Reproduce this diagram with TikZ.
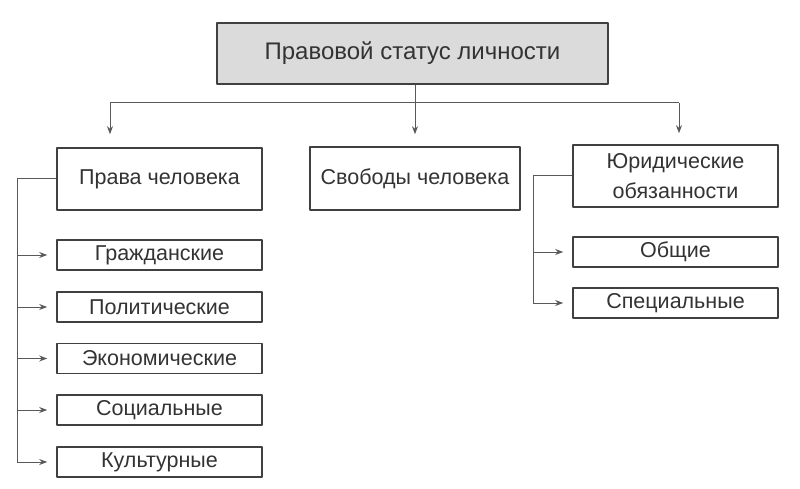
\documentclass[tikz,border=0pt]{standalone}
\usepackage{fontspec}
\setmainfont{Liberation Sans}
\usetikzlibrary{arrows.meta}
\begin{document}
\begin{tikzpicture}[x=1pt, y=-1pt, line join=round, >={Stealth[length=8pt,width=6pt]}, line width=1pt]
    \tikzset{box/.style={draw=black!75, line width=1.6pt, text=black!80, inner sep=0pt, minimum width=205pt, minimum height=30pt, font=\fontsize{21.5}{25}\selectfont},
             link/.style={draw=black!65, line width=1pt}}
    \useasboundingbox[fill=white] (0,0) rectangle (800,489);
    % top level
    \node[box, fill=black!14, minimum width=391pt, minimum height=61pt, font=\fontsize{24}{28}\selectfont] (status) at (412.5,53.5) {Правовой статус личности};
    \node[box, minimum height=62pt] (prava) at (159.5,179) {Права человека};
    \node[box, minimum width=210pt, minimum height=63pt] (svoboda) at (415,178.5) {Свободы человека};
    \node[box, minimum height=62pt, align=center] (obyaz) at (675.5,176) {Юридические\\[5pt]обязанности};
    % kinds of rights
    \foreach \name/\y/\txt in {grazh/255/Гражданские, polit/307/Политические, econ/358.5/Экономические, soc/410/Социальные, kult/462/Культурные}
        \node[box] (\name) at (159.5,\y) {\txt};
    \node[box] (obsh) at (675.5,252) {Общие};
    \node[box] (spec) at (675.5,303) {Специальные};
    % links
    \coordinate (busl) at (110,103);
    \coordinate (busr) at (679,103);
    \draw[link] (busl) -- (busr);
    \draw[link,->,shorten >=12pt] (status.south -| svoboda.north) -- (svoboda.north);
    \draw[link,->,shorten >=13pt] (busl) -- (busl |- prava.north);
    \draw[link,->,shorten >=11pt] (busr) -- (busr |- obyaz.north);
    \coordinate (trl) at (17,0);
    \draw[link] (prava.west) -- (trl |- prava.west) -- (trl |- kult.west);
    \foreach \name in {grazh, polit, econ, soc, kult}
        \draw[link,->,shorten >=9pt] (trl |- \name.west) -- (\name.west);
    \coordinate (trr) at (533,0);
    \draw[link] (obyaz.west) -- (trr |- obyaz.west) -- (trr |- spec.west);
    \foreach \name in {obsh, spec}
        \draw[link,->,shorten >=9pt] (trr |- \name.west) -- (\name.west);
\end{tikzpicture}
\end{document}
